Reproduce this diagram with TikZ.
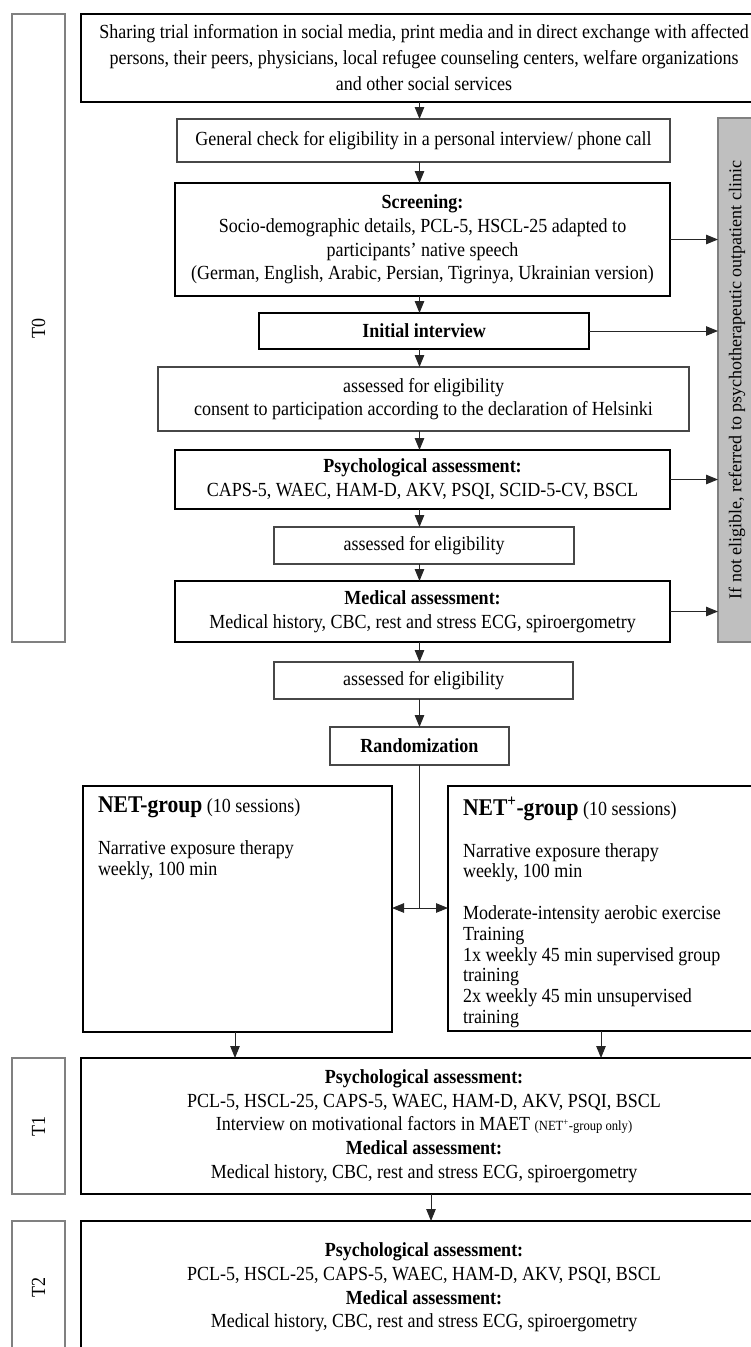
\documentclass[tikz,border=0pt]{standalone}
\usepackage{fontspec}
\setmainfont{Liberation Serif}[FakeStretch=0.9]
\newfontfamily\plainserif{Liberation Serif}
\usetikzlibrary{arrows.meta}
\begin{document}
\begin{tikzpicture}[x=1pt,y=-1pt,
  every node/.style={inner sep=0pt, outer sep=0pt},
  base/.style={draw, rectangle, align=center, font=\fontsize{20}{23.7}\selectfont},
  thickbox/.style={base, draw=black, line width=2.2pt},
  thinbox/.style={base, draw=black!72, line width=1.3pt},
  labelbox/.style={rectangle, draw=black!50, line width=1.8pt, font=\fontsize{20}{20}\selectfont},
  graybox/.style={rectangle, draw=black!50, fill=black!25, line width=1.5pt},
  grouptext/.style={anchor=north west, align=left, font=\fontsize{20}{20.7}\selectfont},
  conn/.style={draw=black!85, line width=1pt},
  arr/.style={conn, -{Triangle[length=12pt,width=9.5pt]}},
  darr/.style={conn, {Triangle[length=12pt,width=9.5pt]}-{Triangle[length=12pt,width=9.5pt]}},
]
\useasboundingbox (0,0) rectangle (751,1347);
\clip (0,0) rectangle (751,1347);

% time-point labels
\node[labelbox, minimum width=53pt, minimum height=628pt] (t0lab) at (38.5,328) {};
\node[rotate=90, font=\fontsize{20}{20}\selectfont] (t0txt) at (t0lab.center) {T0};
\node[labelbox, minimum width=53pt, minimum height=136pt] (t1lab) at (38.5,1126) {};
\node[rotate=90, font=\fontsize{20}{20}\selectfont] (t1txt) at (t1lab.center) {T1};
\node[labelbox, minimum width=53pt, minimum height=133pt] (t2lab) at (38.5,1287.5) {};
\node[rotate=90, font=\fontsize{20}{20}\selectfont] (t2txt) at (t2lab.center) {T2};

% main column
\node[thickbox, minimum width=686pt, minimum height=88pt, font=\fontsize{20}{26}\selectfont] (share) at (424,58)
  {Sharing trial information in social media, print media and in direct exchange with affected\\
   persons, their peers, physicians, local refugee counseling centers, welfare organizations\\
   and other social services};
\node[thinbox, minimum width=493pt, minimum height=43pt] (check) at (423.5,140.5)
  {General check for eligibility in a personal interview/ phone call};
\node[thickbox, minimum width=495pt, minimum height=113pt] (screen) at (422.5,239.5)
  {\textbf{Screening:}\\
   Socio-demographic details, PCL-5, HSCL-25 adapted to\\
   participants' native speech\\
   (German, English, Arabic, Persian, Tigrinya, Ukrainian version)};
\node[thickbox, minimum width=330pt, minimum height=36pt] (interview) at (424,331)
  {\textbf{Initial interview}};
\node[thinbox, minimum width=531pt, minimum height=64pt] (consent) at (423.5,399)
  {assessed for eligibility\\
   consent to participation according to the declaration of Helsinki};
\node[thickbox, minimum width=495pt, minimum height=59pt] (psych) at (422.5,479.5)
  {\textbf{Psychological assessment:}\\
   CAPS-5, WAEC, HAM-D, AKV, PSQI, SCID-5-CV, BSCL};
\node[thinbox, minimum width=300pt, minimum height=37pt] (elig1) at (424,545.5)
  {assessed for eligibility};
\node[thickbox, minimum width=495pt, minimum height=61pt] (med) at (422.5,611.5)
  {\textbf{Medical assessment:}\\
   Medical history, CBC, rest and stress ECG, spiroergometry};
\node[thinbox, minimum width=299pt, minimum height=37pt] (elig2) at (423.5,680.5)
  {assessed for eligibility};
\node[thinbox, minimum width=179pt, minimum height=38pt] (rand) at (419.5,746)
  {\textbf{Randomization}};

% referral box
\node[graybox, minimum width=44pt, minimum height=524pt] (refer) at (740,380) {};
\node[rotate=90, font=\plainserif\fontsize{18}{18}\selectfont] (refertxt) at (737,380)
  {If not eligible, referred to psychotherapeutic outpatient clinic};

% groups
\node[thickbox, minimum width=309pt, minimum height=246pt] (net) at (237.5,909) {};
\node[grouptext] (nettxt) at (98,797)
  {{\fontsize{24}{24}\selectfont\textbf{NET-group}} (10 sessions)\\[21pt]
   Narrative exposure therapy\\
   weekly, 100 min};
\node[thickbox, minimum width=319pt, minimum height=245pt] (netp) at (607.5,908.5) {};
\node[grouptext] (netptxt) at (463,797)
  {{\fontsize{24}{24}\selectfont\textbf{NET\textsuperscript{+}-group}} (10 sessions)\\[21pt]
   Narrative exposure therapy\\
   weekly, 100 min\\[21pt]
   Moderate-intensity aerobic exercise\\
   Training\\
   1x weekly 45 min supervised group\\
   training\\
   2x weekly 45 min unsupervised\\
   training};

% follow-ups
\node[thickbox, line width=2pt, minimum width=686pt, minimum height=136pt] (t1) at (424,1126)
  {\textbf{Psychological assessment:}\\
   PCL-5, HSCL-25, CAPS-5, WAEC, HAM-D, AKV, PSQI, BSCL\\
   Interview on motivational factors in MAET {\fontsize{14}{14}\selectfont(NET\textsuperscript{+}-group only)}\\
   \textbf{Medical assessment:}\\
   Medical history, CBC, rest and stress ECG, spiroergometry};
\node[thickbox, line width=2pt, minimum width=686pt, minimum height=133pt] (t2) at (424,1287.5)
  {\textbf{Psychological assessment:}\\
   PCL-5, HSCL-25, CAPS-5, WAEC, HAM-D, AKV, PSQI, BSCL\\
   \textbf{Medical assessment:}\\
   Medical history, CBC, rest and stress ECG, spiroergometry};

% connectors
\coordinate (ax) at (419.5,0);
\draw[arr] (share.south -| ax) -- (check.north -| ax);
\draw[arr] (check.south -| ax) -- (screen.north -| ax);
\draw[arr] (screen.south -| ax) -- (interview.north -| ax);
\draw[arr] (interview.south -| ax) -- (consent.north -| ax);
\draw[arr] (consent.south -| ax) -- (psych.north -| ax);
\draw[arr] (psych.south -| ax) -- (elig1.north -| ax);
\draw[arr] (elig1.south -| ax) -- (med.north -| ax);
\draw[arr] (med.south -| ax) -- (elig2.north -| ax);
\draw[arr] (elig2.south -| ax) -- (rand.north -| ax);

\draw[arr] (screen.east) -- (screen.east -| refer.west);
\draw[arr] (interview.east) -- (interview.east -| refer.west);
\draw[arr] (psych.east) -- (psych.east -| refer.west);
\draw[arr] (med.east) -- (med.east -| refer.west);

\coordinate (split) at (419.5,908);
\draw[conn] (rand.south -| ax) -- (split);
\draw[darr] (net.east |- split) -- (netp.west |- split);

\coordinate (bx) at (235,0);
\coordinate (cx) at (601,0);
\coordinate (dx) at (431,0);
\draw[arr] (net.south -| bx) -- (t1.north -| bx);
\draw[arr] (netp.south -| cx) -- (t1.north -| cx);
\draw[arr] (t1.south -| dx) -- (t2.north -| dx);
\end{tikzpicture}
\end{document}
